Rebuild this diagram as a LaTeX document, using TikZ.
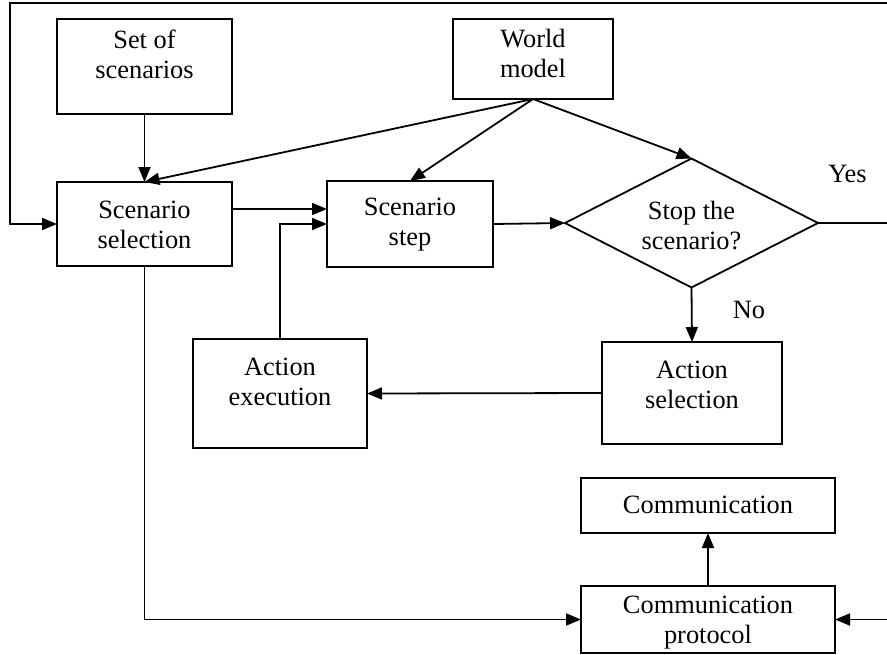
\documentclass[tikz,border=0pt]{standalone}
\usepackage{fontspec}
\setmainfont{Liberation Serif}
\usetikzlibrary{shapes.geometric,arrows.meta}

\begin{document}
\begin{tikzpicture}[x=1pt, y=-1pt, line width=1.8pt,
		>={Triangle[length=15pt,width=12pt]},
		box/.style={draw, rectangle, outer sep=0pt},
		txt/.style={align=center, inner sep=0pt, font=\fontsize{26.4}{30}\selectfont}]
	\useasboundingbox (0,0) rectangle (887,654);
	% boxes
	\node[box, minimum width=175pt, minimum height=95pt] (setsc) at (144.5, 66.5) {};
	\node[box, minimum width=160pt, minimum height=80pt] (world) at (533, 59) {};
	\node[box, minimum width=175pt, minimum height=84pt] (scsel) at (144.5, 224) {};
	\node[box, minimum width=166pt, minimum height=86pt] (scstep) at (410, 224) {};
	\node[draw, diamond, inner sep=0pt, outer sep=0pt, minimum width=253pt, minimum height=129pt] (stop) at (691.5, 223) {};
	\node[box, minimum width=174pt, minimum height=109pt] (actex) at (280, 393.5) {};
	\node[box, minimum width=180pt, minimum height=102pt] (actsel) at (692, 393) {};
	\node[box, minimum width=254pt, minimum height=55pt] (comm) at (708, 505.5) {};
	\node[box, minimum width=254pt, minimum height=67pt] (proto) at (708, 619.5) {};
	% texts
	\node[txt] (setsc-t) at (144.5, 54) {Set of\\scenarios};
	\node[txt] (world-t) at (533, 53.5) {World\\model};
	\node[txt] (scsel-t) at (144.5, 225) {Scenario\\selection};
	\node[txt] (scstep-t) at (410, 225) {Scenario\\step};
	\node[txt] (stop-t) at (691.5, 225.5) {Stop the\\scenario?};
	\node[txt] (actex-t) at (280, 382) {Action\\execution};
	\node[txt] (actsel-t) at (692, 385) {Action\\selection};
	\node[txt] (comm-t) at (708, 505) {Communication};
	\node[txt] (proto-t) at (708, 623) {Communication\\protocol};
	\node[txt] (yes) at (847.5, 174) {Yes};
	\node[txt] (no) at (749, 310) {No};
	% loose ends at the border
	\coordinate (topleft) at (10, 3);
	\coordinate (topright) at (887, 3);
	\coordinate (yesend) at (887, 223);
	\coordinate (protoin) at (887, 619.5);
	% connectors
	\draw[->] (setsc) -- (scsel);
	\draw[->] (world.south) -- (scsel.north);
	\draw[->] (world.south) -- (scstep.north);
	\draw[->] (world.south) -- (stop.north);
	\draw[->] ([yshift=15pt]scsel.east) -- ([yshift=15pt]scstep.west);
	\draw[->] (actex.north) |- (scstep.west);
	\draw[->] (scstep.east) -- (stop.west);
	\draw[->] (stop.south) -- (actsel.north);
	\draw[->] (actsel.west) -- (actex.east);
	\draw[->] (proto.north) -- (comm.south);
	\draw[->] (scsel.south) |- (proto.west);
	\draw (stop.east) -- (yesend);
	\draw[->] (topright) -- (topleft) |- (scsel.west);
	\draw[->] (protoin) -- (proto.east);
\end{tikzpicture}
\end{document}
